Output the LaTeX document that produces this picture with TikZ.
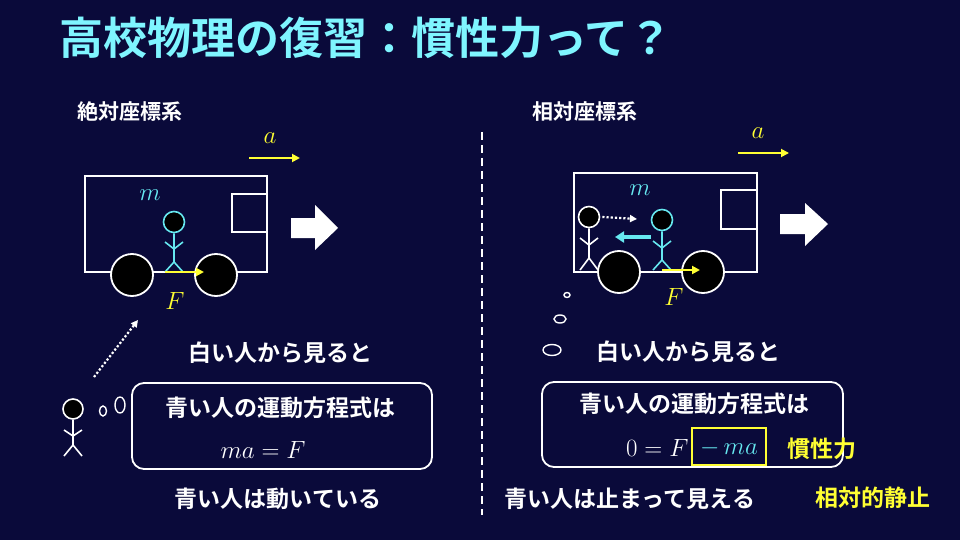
\documentclass[tikz,border=0pt]{standalone}
\usepackage{fontspec}
\usepackage{amsmath}
\newfontfamily\jp{Noto Sans CJK JP Bold}
\usetikzlibrary{arrows.meta,shapes.geometric}
\definecolor{bg}{HTML}{0A0A3A}
\definecolor{ttl}{HTML}{7FF5FF}
\definecolor{cy}{HTML}{66E8F0}
\definecolor{yl}{HTML}{FFFF33}
\tikzset{
 wl/.style={draw=white,line width=1.8pt},
 wheel/.style={circle,draw=white,line width=1.8pt,fill=black,minimum size=42pt,inner sep=0},
 head/.style={circle,line width=1.6pt,fill=black,minimum size=21pt,inner sep=0},
 jt/.style={text=white,font=\jp\fontsize{23}{23}\selectfont},
 hd/.style={text=white,font=\jp\fontsize{21}{21}\selectfont},
 mt/.style={font=\fontsize{26}{26}\selectfont},
 yarr/.style={draw=yl,line width=2.4pt,-{Triangle[length=8pt,width=8pt]}},
 bub/.style={draw=white,line width=1.4pt,ellipse},
}
\begin{document}
\begin{tikzpicture}[x=1pt,y=-1pt]
\useasboundingbox (0,0) rectangle (960,540);
\fill[bg] (0,0) rectangle (960,540);
\node[text=ttl,font=\jp\fontsize{44}{44}\selectfont] (title) at (366,38) {高校物理の復習：慣性力って？};
\node[hd] (h1) at (130,112) {絶対座標系};
\node[hd] (h2) at (585,112) {相対座標系};
\draw[white,dash pattern=on 8pt off 5pt,line width=1.8pt] (482,132) -- (482,515);
% ---- left
\draw[wl] (85,176) rectangle (267,272);
\draw[wl] (267,194) -- (232,194) -- (232,232) -- (267,232);
\node[wheel] (w1) at (132,275) {};
\node[wheel] (w2) at (216,275) {};
\node[head,draw=cy] (bh) at (174,222) {};
\draw[cy,line width=1.6pt] (bh.south) -- (174,262) (165,242)--(174,249)--(183,242) (165,272)--(174,262)--(183,272);
\coordinate (f1s) at (165,272); \coordinate (f1e) at (204,272);
\draw[yarr] (f1s) -- (f1e);
\node[text=yl,mt] (F1) at (175,301) {$F$};
\node[text=cy,mt] (m1) at (150,195) {$m$};
\coordinate (a1s) at (249,158); \coordinate (a1e) at (300,158);
\draw[yarr,line width=1.8pt] (a1s) -- (a1e);
\node[text=yl,mt] (a1) at (270,138) {$a$};
\fill[white] (291,218) -- (315,218) -- (315,205) -- (338,228) -- (315,250) -- (315,238) -- (291,238) -- cycle;
\node[head,draw=white,minimum size=20pt] (wh1) at (73,409) {};
\draw[white,line width=1.6pt] (wh1.south) -- (73,445) (64,430)--(73,436)--(82,430) (64,456)--(73,445)--(82,456);
\coordinate (d1) at (94,377);
\draw[white,dotted,line width=2.2pt,-{Triangle[length=7pt,width=7pt]}] (d1) -- (138,320);
\node[bub,minimum width=7pt,minimum height=10pt,inner sep=0] (o1) at (103,411) {};
\node[bub,minimum width=10pt,minimum height=16pt,inner sep=0] (o2) at (120,405) {};
\node[jt] (t1) at (280,353) {白い人から見ると};
\draw[wl,rounded corners=12pt] (132,383) rectangle (432,469);
\node[jt] (t2) at (280,408) {青い人の運動方程式は};
\node[text=white,mt] (e1) at (263,450) {$ma = F$};
\node[jt] (t3) at (278,499) {青い人は動いている};
% ---- right
\draw[wl] (574,173) rectangle (757,272);
\draw[wl] (757,190) -- (721,190) -- (721,229) -- (757,229);
\node[wheel] (w3) at (619,272) {};
\node[wheel] (w4) at (703,272) {};
\node[head,draw=white] (wh2) at (589,217) {};
\draw[white,line width=1.6pt] (wh2.south) -- (589,258) (580,238)--(589,245)--(598,238) (580,270)--(589,258)--(598,270);
\node[head,draw=cy] (bh2) at (662,220) {};
\draw[cy,line width=1.6pt] (bh2.south) -- (662,260) (653,241)--(662,248)--(671,241) (653,270)--(662,260)--(671,270);
\draw[white,dotted,line width=2.2pt,-{Triangle[length=7pt,width=7pt]}] (wh2.east) ++(2,0) -- (637,219);
\coordinate (c1) at (651,237); \coordinate (c2) at (615,237);
\draw[cy,line width=3.5pt,-{Triangle[length=9pt,width=11pt]}] (c1) -- (c2);
\coordinate (f2s) at (662,270); \coordinate (f2e) at (700,270);
\draw[yarr] (f2s) -- (f2e);
\node[text=yl,mt] (F2) at (674,297) {$F$};
\node[text=cy,mt] (m2) at (640,190) {$m$};
\coordinate (a2s) at (738,153); \coordinate (a2e) at (789,153);
\draw[yarr,line width=1.8pt] (a2s) -- (a2e);
\node[text=yl,mt] (a2) at (758,133) {$a$};
\fill[white] (780,214) -- (805,214) -- (805,203) -- (828,224) -- (805,246) -- (805,234) -- (780,234) -- cycle;
\node[bub,minimum width=6pt,minimum height=5pt,inner sep=0] (o3) at (567,295) {};
\node[bub,minimum width=12pt,minimum height=8pt,inner sep=0] (o4) at (560,319) {};
\node[bub,minimum width=18pt,minimum height=11pt,inner sep=0] (o5) at (552,350) {};
\node[jt] (t4) at (688,352) {白い人から見ると};
\draw[wl,rounded corners=12pt] (542,382) rectangle (843,467);
\node[jt] (t5) at (694,404) {青い人の運動方程式は};
\node[text=white,mt,anchor=east] (e2) at (692,448) {$0 = F$};
\draw[yl,line width=1.8pt] (692,428) rectangle (766,465);
\node[text=cy,mt] (e3) at (729,448) {$-\,ma$};
\node[jt,text=yl] (k1) at (822,449) {慣性力};
\node[jt] (t6) at (630,499) {青い人は止まって見える};
\node[jt,text=yl] (k2) at (873,498) {相対的静止};
\end{tikzpicture}
\end{document}
